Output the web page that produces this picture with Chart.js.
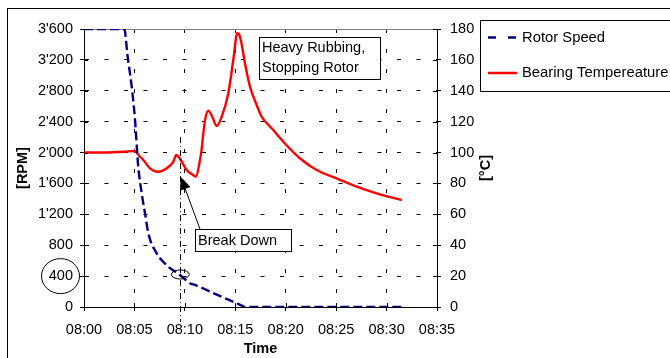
<!DOCTYPE html>
<html><head><meta charset="utf-8">
<script src="https://cdn.jsdelivr.net/npm/chart.js@4/dist/chart.umd.min.js"></script>
<style>html,body{margin:0;padding:0;background:#fff;overflow:hidden}#wrap{position:relative;width:670px;height:358px}</style>
</head><body><div id="wrap"><canvas id="c" width="670" height="358"></canvas></div>
<script>
// ---- data ----
const timeTicks = ['08:00','08:05','08:10','08:15','08:20','08:25','08:30','08:35'];
const rpmTicks = ["0","400","800","1'200","1'600","2'000","2'400","2'800","3'200","3'600"];
const tempTicks = ['0','20','40','60','80','100','120','140','160','180'];
// minutes after 08:00
const rotorMinutes = [0, 3.9, 4.06, 4.29, 4.73, 5.06, 5.28, 5.38, 5.72, 6.05, 6.38, 7.21, 8.36, 9.52, 10.51, 11.0, 13.0, 15.0, 15.8, 15.96, 31.5];
const rotorRpm     = [3600, 3600, 3570, 3285, 2853, 2422, 1990, 1817, 1472, 1213, 954, 695, 522, 414, 307, 285, 170, 55, 9, 0, 0];
const tempMinutes = [0, 2, 4, 5.0, 5.55, 5.88, 6.54, 7.37, 8.2, 8.85, 9.15, 9.59, 10.18, 10.8, 11.1, 11.5, 11.66, 11.76, 12.0, 12.32, 12.72, 13.16, 13.65, 14.31, 14.8, 15.2, 15.47, 15.96, 16.46, 17.12, 17.62, 18.61, 19.76, 21.4, 23.07, 25.05, 27.04, 29.0, 31.5];
const tempC       = [100, 100, 100.5, 101, 97.3, 95.2, 89.8, 87.6, 89.8, 94, 98.4, 95.2, 88.7, 85.5, 84.4, 95.2, 101.7, 108.1, 121, 127.1, 123.2, 117.2, 123.2, 138.4, 159.9, 177.2, 175, 157.8, 142.6, 130.8, 123.2, 115.7, 107, 96.3, 88.7, 83.3, 77.9, 73.6, 69.3];
const seriesNames = ['Rotor Speed', 'Bearing Tempereature'];
const rightAxisTitle = '[°C]';
const breakDownMinute = 9.55, breakDownRpm = 421, breakDownLineTopRpm = 2200;
const breakDownArrowTip = {t: 9.59, c: 84.4};
const breakDownBox = {t: 11.0, c: 50.5, text: 'Break Down'};
const rubbingBox = {t: 17.35, c: 175, lines: ['Heavy Rubbing,', 'Stopping Rotor']};

const FONT = 'Arial, "Liberation Sans", sans-serif';
Chart.defaults.font.family = FONT;
Chart.defaults.font.size = 14.5;
Chart.defaults.color = '#000';

const toXY = (xs, ys) => xs.map((v, i) => ({x: v, y: ys[i]}));

const deco = {
  id: 'deco',
  beforeDraw(chart) {
    const ctx = chart.ctx; ctx.save(); ctx.fillStyle = '#fff'; ctx.fillRect(0, 0, chart.width, chart.height); ctx.restore();
  },
  beforeDatasetsDraw(chart) {
    const {ctx, chartArea: a} = chart;
    ctx.save();
    ctx.strokeStyle = '#808080'; ctx.lineWidth = 1;
    ctx.beginPath(); ctx.moveTo(a.left, Math.round(a.top) + 0.5); ctx.lineTo(a.right, Math.round(a.top) + 0.5); ctx.stroke();
    ctx.restore();
  },
  afterDraw(chart) {
    const {ctx, chartArea: a, scales} = chart;
    const x = scales.x, y = scales.y, y1 = scales.y1;
    ctx.save();
    // outer frame
    ctx.strokeStyle = '#000'; ctx.lineWidth = 1; ctx.setLineDash([]);
    ctx.strokeRect(7.5, 8.5, 800, 500);
    // inner tick marks (cross ticks)
    ctx.beginPath();
    y.ticks.forEach(t => { const p = Math.round(y.getPixelForValue(t.value)) + 0.5; ctx.moveTo(a.left, p); ctx.lineTo(a.left + 4, p); });
    y1.ticks.forEach(t => { const p = Math.round(y1.getPixelForValue(t.value)) + 0.5; ctx.moveTo(a.right - 4, p); ctx.lineTo(a.right, p); });
    x.ticks.forEach(t => { const p = Math.round(x.getPixelForValue(t.value)) + 0.5; ctx.moveTo(p, a.bottom - 4); ctx.lineTo(p, a.bottom); });
    ctx.stroke();
    // right axis title (rotated like the left one)
    ctx.save();
    ctx.translate(y1.right - 9.5, (a.top + a.bottom) / 2);
    ctx.rotate(-Math.PI / 2);
    ctx.font = 'bold 14.5px ' + FONT; ctx.fillStyle = '#000'; ctx.textAlign = 'center'; ctx.textBaseline = 'middle';
    ctx.fillText(rightAxisTitle, 0, 0);
    ctx.restore();
    // break-down dash-dot line
    const bx = Math.round(x.getPixelForValue(breakDownMinute)) + 0.5;
    ctx.setLineDash([6, 3, 1, 3]);
    ctx.beginPath(); ctx.moveTo(bx, y.getPixelForValue(breakDownLineTopRpm)); ctx.lineTo(bx, a.bottom + 15); ctx.stroke();
    ctx.setLineDash([]);
    // small ellipse on rotor curve
    ctx.beginPath(); ctx.ellipse(x.getPixelForValue(breakDownMinute), y.getPixelForValue(breakDownRpm), 9, 4.5, 0, 0, Math.PI * 2); ctx.stroke();
    // ellipse around 400 label
    ctx.beginPath(); ctx.ellipse(y.right - 23.5, y.getPixelForValue(400), 19, 17.5, 0, 0, Math.PI * 2); ctx.stroke();
    // arrow
    const tipX = x.getPixelForValue(breakDownArrowTip.t), tipY = y1.getPixelForValue(breakDownArrowTip.c);
    const bbx = Math.round(x.getPixelForValue(breakDownBox.t)), bby = Math.round(y1.getPixelForValue(breakDownBox.c));
    const tailX = bbx + 5, tailY = bby;
    const ang = Math.atan2(tipY - tailY, tipX - tailX);
    const hl = 13, hw = 5.5;
    const baseX = tipX - hl * Math.cos(ang), baseY = tipY - hl * Math.sin(ang);
    ctx.beginPath(); ctx.moveTo(tailX, tailY); ctx.lineTo(baseX, baseY); ctx.stroke();
    ctx.fillStyle = '#000';
    ctx.beginPath(); ctx.moveTo(tipX, tipY);
    ctx.lineTo(baseX + hw * Math.sin(ang), baseY - hw * Math.cos(ang));
    ctx.lineTo(baseX - hw * Math.sin(ang), baseY + hw * Math.cos(ang));
    ctx.closePath(); ctx.fill();
    // boxes
    const box = (bxl, byt, w, h) => { ctx.fillStyle = '#fff'; ctx.fillRect(bxl, byt, w, h); ctx.strokeStyle = '#000'; ctx.strokeRect(bxl + 0.5, byt + 0.5, w, h); };
    ctx.font = '14.5px ' + FONT; ctx.textBaseline = 'middle'; ctx.textAlign = 'left';
    box(bbx, bby, 96, 22);
    ctx.fillStyle = '#000'; ctx.fillText(breakDownBox.text, bbx + 3, bby + 11.5);
    const rx = Math.round(x.getPixelForValue(rubbingBox.t)), ry = Math.round(y1.getPixelForValue(rubbingBox.c));
    box(rx, ry, 121, 42);
    ctx.fillStyle = '#000';
    ctx.fillText(rubbingBox.lines[0], rx + 3, ry + 11);
    ctx.fillText(rubbingBox.lines[1], rx + 3, ry + 31);
    // legend
    const lx = 480, ly = 20;
    box(lx, ly, 300, 71);
    ctx.font = '14.8px ' + FONT;
    const ds = chart.data.datasets;
    const rowsY = [ly + 17.5, ly + 53];
    ds.forEach((d, i) => {
      ctx.strokeStyle = d.borderColor; ctx.lineWidth = 2.5;
      ctx.setLineDash(i === 0 ? [8, 12] : []);
      ctx.beginPath(); ctx.moveTo(lx + 8, rowsY[i]); ctx.lineTo(lx + 37, rowsY[i]); ctx.stroke();
      ctx.setLineDash([]);
      ctx.fillStyle = '#000'; ctx.fillText(d.label, lx + 42, rowsY[i]);
    });
    ctx.restore();
  }
};

new Chart(document.getElementById('c'), {
  type: 'line',
  data: {
    datasets: [
      {label: seriesNames[0], data: toXY(rotorMinutes, rotorRpm), yAxisID: 'y', borderColor: '#000080', borderWidth: 2.4, borderDash: [9, 4], pointRadius: 0, tension: 0.4, cubicInterpolationMode: 'monotone', fill: false},
      {label: seriesNames[1], data: toXY(tempMinutes, tempC), yAxisID: 'y1', borderColor: '#ff0000', borderWidth: 2.4, pointRadius: 0, tension: 0.4, cubicInterpolationMode: 'monotone', fill: false}
    ]
  },
  options: {
    responsive: false, animation: false, devicePixelRatio: 1,
    layout: {padding: {left: 0, top: 29, right: 175, bottom: 0}},
    plugins: {legend: {display: false}, tooltip: {enabled: false}},
    scales: {
      x: {type: 'linear', min: 0, max: 35,
        ticks: {stepSize: 5, autoSkip: false, maxRotation: 0, padding: 10, callback: v => timeTicks[Math.round(v / 5)]},
        grid: {color: '#000', lineWidth: 1, tickLength: 4, tickColor: '#000', tickWidth: 1},
        border: {display: true, color: '#000', width: 1, dash: [4, 16]},
        title: {display: true, text: 'Time', font: {weight: 'bold', size: 14.5}, padding: {top: 0, bottom: 0}},
        afterFit: s => { s.height = 51; }
      },
      y: {type: 'linear', position: 'left', min: 0, max: 3600,
        ticks: {stepSize: 400, autoSkip: false, padding: 7, callback: v => rpmTicks[Math.round(v / 400)]},
        grid: {color: '#000', lineWidth: 1, tickLength: 4, tickColor: '#000', tickWidth: 1},
        border: {display: true, color: '#000', width: 1, dash: [4, 15.5]},
        title: {display: true, text: '[RPM]', font: {weight: 'bold', size: 14.5}, padding: {top: 14.3, bottom: 0}},
        afterFit: s => { s.width = 84; }
      },
      y1: {type: 'linear', position: 'right', min: 0, max: 180,
        ticks: {stepSize: 20, autoSkip: false, padding: 9, callback: v => tempTicks[Math.round(v / 20)]},
        grid: {drawOnChartArea: false, color: '#000', tickLength: 4, tickColor: '#000', tickWidth: 1},
        border: {display: true, color: '#000', width: 1},
        title: {display: false},
        afterFit: s => { s.width = 58; }
      }
    }
  },
  plugins: [deco]
});
</script></body></html>
